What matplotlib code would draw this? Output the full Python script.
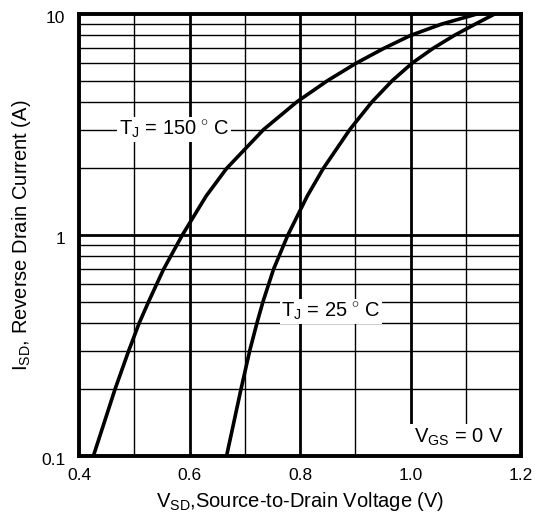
import matplotlib.pyplot as plt
import matplotlib.transforms as mtransforms
from matplotlib.patches import Rectangle
from matplotlib.ticker import FixedLocator, NullFormatter

plt.rcParams['font.family'] = ['Liberation Sans', 'DejaVu Sans']
plt.rcParams['mathtext.fontset'] = 'custom'
plt.rcParams['mathtext.rm'] = 'Liberation Sans'
plt.rcParams['mathtext.it'] = 'Liberation Sans'

# reverse diode curves, Vsd (V) vs Isd (A)
i_sd = [0.1, 0.2, 0.3, 0.4, 0.5, 0.7, 1, 1.5, 2, 3, 4, 5, 6, 7, 8, 9, 10]
v_150 = [0.426, 0.465, 0.490, 0.509, 0.526, 0.553, 0.587, 0.630, 0.667, 0.734,
         0.794, 0.850, 0.902, 0.952, 1.000, 1.056, 1.120]
v_25 = [0.667, 0.693, 0.709, 0.722, 0.733, 0.752, 0.778, 0.813, 0.842, 0.890,
        0.930, 0.967, 1.003, 1.041, 1.079, 1.117, 1.152]

x_ticks = [0.4, 0.6, 0.8, 1.0, 1.2]
x_minor = [0.5, 0.7, 0.9, 1.1]
y_minor = [0.2, 0.3, 0.4, 0.5, 0.6, 0.7, 0.8, 0.9, 2, 3, 4, 5, 6, 7, 8, 9]

fig = plt.figure(figsize=(5.35, 5.19), dpi=100)
ax = fig.add_axes([0.1477, 0.1214, 0.8263, 0.8516])
ax.set_yscale('log')
ax.set_xlim(0.4, 1.2)
ax.set_ylim(0.1, 10)

# grid
for x in x_minor:
    ax.axvline(x, color='black', lw=1.0, zorder=1)
for x in x_ticks[1:-1]:
    ax.axvline(x, color='black', lw=2.0, zorder=1)
for y in y_minor:
    ax.axhline(y, color='black', lw=1.0, zorder=1)
ax.axhline(1, color='black', lw=2.0, zorder=1)

ax.plot(v_150, i_sd, color='black', lw=2.6, zorder=3, solid_joinstyle='round')
ax.plot(v_25, i_sd, color='black', lw=2.6, zorder=3, solid_joinstyle='round')

box = dict(facecolor='white', edgecolor='none', pad=1)
ax.text(0.572, 3.0, r'T$_\mathregular{J}$ = 150$\,^\circ\,$C', fontsize=14.5, ha='center', va='center',
        bbox=box, zorder=4)
ax.text(0.856, 0.45, r'T$_\mathregular{J}$ = 25$\,^\circ\,$C', fontsize=14.5, ha='center', va='center',
        bbox=box, zorder=4)

# blank corner behind the bias condition
ax.add_patch(Rectangle((0.972, 0.1), 0.228, 0.0395, facecolor='white', edgecolor='none', zorder=2))
ax.text(1.087, 0.121, r'V$_\mathregular{GS}$ = 0 V', fontsize=14.5, ha='center', va='center', zorder=4)

ax.xaxis.set_major_locator(FixedLocator(x_ticks))
ax.set_xticklabels(['0.4', '0.6', '0.8', '1.0', '1.2'])
ax.yaxis.set_major_locator(FixedLocator([0.1, 1, 10]))
ax.set_yticklabels(['0.1', '1', '10'])
ax.yaxis.set_minor_formatter(NullFormatter())
ax.tick_params(which='both', length=0, labelsize=12.5)
ax.tick_params(axis='x', pad=9)
ax.tick_params(axis='y', pad=10)
shift = mtransforms.ScaledTranslation(0, -3 / 100, fig.dpi_scale_trans)
for lbl in ax.get_yticklabels():
    lbl.set_transform(lbl.get_transform() + shift)

for s in ax.spines.values():
    s.set_linewidth(2.8)
    s.set_zorder(5)

ax.set_xlabel(r'V$_\mathregular{SD}$,Source-to-Drain Voltage (V)', fontsize=14.5, labelpad=5)
ax.set_ylabel(r'I$_\mathregular{SD}$, Reverse Drain Current (A)', fontsize=14.5, labelpad=6)

fig.savefig('out.png', dpi=100)
